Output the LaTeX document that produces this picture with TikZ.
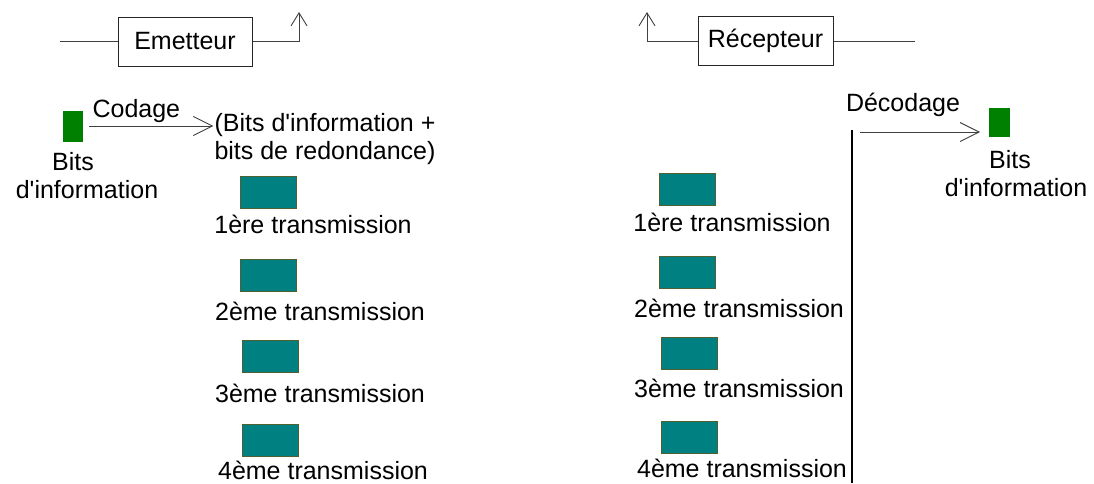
\documentclass[tikz,border=0pt]{standalone}
\usepackage{fontspec}
\setmainfont{Liberation Sans}
\usetikzlibrary{arrows.meta}
\definecolor{bitgreen}{RGB}{0,128,0}
\definecolor{blockteal}{RGB}{0,128,128}
\definecolor{blockedge}{RGB}{80,96,48}

\begin{document}
\begin{tikzpicture}[x=1pt, y=-1pt,
    every node/.style={font=\fontsize{25}{28}\selectfont, inner sep=1pt},
    unit/.style={draw=black!85, line width=1pt, minimum height=49pt, inner sep=0pt},
    bits/.style={fill=bitgreen, draw=none, minimum width=20pt, minimum height=31pt, inner sep=0pt},
    block/.style={fill=blockteal, draw=blockedge, line width=0.6pt, minimum width=56pt, minimum height=32pt, inner sep=0pt},
    wire/.style={draw=black!75, line width=0.9pt},
    upbarb/.style={-{Straight Barb[length=13pt, width=16pt]}},
    sidebarb/.style={-{Straight Barb[length=19pt, width=19pt]}}]
  \useasboundingbox (0,0) rectangle (1094,483);
  % emetteur / recepteur
  \node[unit, minimum width=134pt] (emit) at (185,41.5) {Emetteur};
  \node[unit, minimum width=135pt] (recv) at (765.5,41) {Récepteur};
  \coordinate (emitin) at (60,41.5);
  \coordinate (emitout) at (299,12);
  \coordinate (recvin) at (915,41);
  \coordinate (recvout) at (647,12);
  \draw[wire] (emitin) -- (emit.west);
  \draw[wire, upbarb] (emit.east) -| (emitout);
  \draw[wire] (recvin) -- (recv.east);
  \draw[wire, upbarb] (recv.west) -| (recvout);

  % codage
  \node[bits] (bitsL) at (73,126) {};
  \node[align=center] (bitsLtxt) at (87,176) {Bits\hspace*{28pt}\\d\textquotesingle information};
  \node[align=center] (coded) at (325,139) {(Bits d\textquotesingle information +\\bits de redondance)};
  \draw[wire, sidebarb] ([xshift=6pt]bitsL.east) -- (bitsL.east -| coded.west)
    node[above, pos=0.38, inner sep=3pt] (codage) {Codage};

  \node[block] (t1L) at (268,192) {};
  \node[block] (t2L) at (268,275) {};
  \node[block] (t3L) at (270,356) {};
  \node[block] (t4L) at (270,440) {};
  \node (l1L) at (313,224) {1ère transmission};
  \node (l2L) at (320,311) {2ème transmission};
  \node (l3L) at (320,393) {3ème transmission};
  \node (l4L) at (323,470) {4ème transmission};

  % decodage
  \node[block] (t1R) at (687,189) {};
  \node[block] (t2R) at (687,272.5) {};
  \node[block] (t3R) at (689,353) {};
  \node[block] (t4R) at (689,437.5) {};
  \node (l1R) at (732,222) {1ère transmission};
  \node (l2R) at (739,308) {2ème transmission};
  \node (l3R) at (739,388) {3ème transmission};
  \node (l4R) at (742,468) {4ème transmission};

  \coordinate (dectop) at (852,130);
  \coordinate (decbot) at (852,483);
  \draw[black, line width=1.3pt] (dectop) -- (decbot);
  \node[bits, minimum width=21pt, minimum height=29pt] (bitsR) at (999.5,122.5) {};
  \node[align=center] (bitsRtxt) at (1016,174) {Bits\hspace*{12pt}\\d\textquotesingle information};
  \coordinate (decfrom) at (860,132);
  \coordinate (decto) at (980,132);
  \draw[wire, sidebarb] (decfrom) -- (decto);
  \node (decodage) at (903,105) {Décodage};
\end{tikzpicture}
\end{document}
